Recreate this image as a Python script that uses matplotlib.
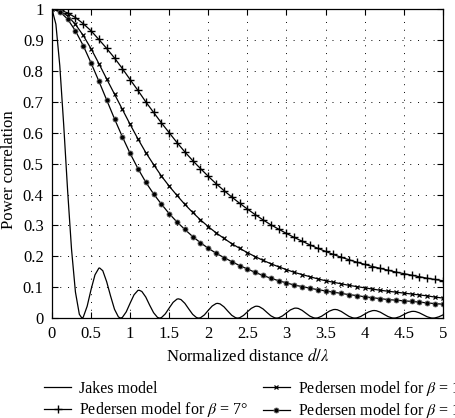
import numpy as np
import matplotlib
matplotlib.use("Agg")
import matplotlib.pyplot as plt
from matplotlib.ticker import FuncFormatter

plt.rcParams['font.family'] = ['Liberation Serif', 'DejaVu Serif']
plt.rcParams['mathtext.fontset'] = 'stix'
plt.rcParams['font.size'] = 11.5

# Jakes model, read at 0.05 steps plus the zeros and the lobe tops
jakes_d = [0.00, 0.05, 0.10, 0.15, 0.20, 0.25, 0.30, 0.35, 0.40, 0.45,
           0.50, 0.55, 0.60, 0.65, 0.70, 0.75, 0.80, 0.85, 0.90, 0.95,
           1.00, 1.05, 1.10, 1.15, 1.20, 1.25, 1.30, 1.35, 1.40, 1.45,
           1.50, 1.55, 1.60, 1.65, 1.70, 1.75, 1.80, 1.85, 1.90, 1.95,
           2.00, 2.05, 2.10, 2.15, 2.20, 2.25, 2.30, 2.35, 2.40, 2.45,
           2.50, 2.55, 2.60, 2.65, 2.70, 2.75, 2.80, 2.85, 2.90, 2.95,
           3.00, 3.05, 3.10, 3.15, 3.20, 3.25, 3.30, 3.35, 3.40, 3.45,
           3.50, 3.55, 3.60, 3.65, 3.70, 3.75, 3.80, 3.85, 3.90, 3.95,
           4.00, 4.05, 4.10, 4.15, 4.20, 4.25, 4.30, 4.35, 4.40, 4.45,
           4.50, 4.55, 4.60, 4.65, 4.70, 4.75, 4.80, 4.85, 4.90, 4.95, 5.00]
jakes_p = [1.0, 0.9516, 0.8167, 0.6250, 0.4128, 0.2228, 0.0844, 0.0123, 0.0030, 0.0384,
           0.0925, 0.1400, 0.1618, 0.1534, 0.1174, 0.0712, 0.0285, 0.0037, 0.0021, 0.0202,
           0.0485, 0.0755, 0.0898, 0.0861, 0.0681, 0.0417, 0.0175, 0.0022, 0.0015, 0.0137,
           0.0328, 0.0511, 0.0616, 0.0600, 0.0478, 0.0296, 0.0121, 0.0015, 0.0011, 0.0103,
           0.0253, 0.0392, 0.0471, 0.0460, 0.0366, 0.0225, 0.0091, 0.0011, 0.0010, 0.0085,
           0.0203, 0.0315, 0.0380, 0.0373, 0.0298, 0.0184, 0.0075, 0.0009, 0.0009, 0.0071,
           0.0169, 0.0264, 0.0319, 0.0314, 0.0251, 0.0156, 0.0063, 0.0007, 0.0007, 0.0061,
           0.0145, 0.0227, 0.0275, 0.0271, 0.0217, 0.0135, 0.0055, 0.0006, 0.0006, 0.0053,
           0.0127, 0.0199, 0.0241, 0.0238, 0.0192, 0.0119, 0.0049, 0.0006, 0.0006, 0.0047,
           0.0113, 0.0177, 0.0215, 0.0213, 0.0171, 0.0107, 0.0043, 0.0005, 0.0005, 0.0042, 0.0101]
jakes_zero_d = [0.3827, 0.8785, 1.3773, 1.8767, 2.3763, 2.8761, 3.3759, 3.8758, 4.3757, 4.8756]
jakes_peak_d = [0.6098, 1.1166, 1.6192, 2.1205, 2.6214, 3.1219, 3.6224, 4.1227, 4.6230]
jakes_peak_p = [0.1622, 0.0901, 0.0623, 0.0477, 0.0386, 0.0324, 0.0280, 0.0246, 0.0219]

# Pedersen model, read every 0.1
ped_d = [round(0.1 * i, 1) for i in range(51)]
ped_7 = [1.0, 0.998, 0.988, 0.973, 0.953, 0.930, 0.902, 0.873, 0.842, 0.808,
         0.772, 0.737, 0.700, 0.666, 0.632, 0.600, 0.568, 0.538, 0.510, 0.484,
         0.459, 0.435, 0.413, 0.392, 0.372, 0.353, 0.335, 0.318, 0.302, 0.288,
         0.274, 0.261, 0.249, 0.237, 0.226, 0.216, 0.206, 0.197, 0.189, 0.181,
         0.174, 0.167, 0.161, 0.155, 0.149, 0.144, 0.139, 0.134, 0.129, 0.125, 0.121]
ped_10 = [1.0, 0.995, 0.978, 0.951, 0.915, 0.872, 0.824, 0.774, 0.725, 0.676,
          0.627, 0.580, 0.536, 0.497, 0.460, 0.427, 0.397, 0.368, 0.342, 0.318,
          0.296, 0.276, 0.258, 0.241, 0.226, 0.212, 0.199, 0.187, 0.176, 0.166,
          0.157, 0.148, 0.141, 0.134, 0.127, 0.121, 0.116, 0.111, 0.106, 0.102,
          0.098, 0.094, 0.090, 0.087, 0.084, 0.081, 0.078, 0.075, 0.072, 0.068, 0.065]
ped_15 = [1.0, 0.992, 0.968, 0.930, 0.882, 0.826, 0.767, 0.706, 0.645, 0.587,
          0.533, 0.484, 0.440, 0.402, 0.369, 0.338, 0.311, 0.287, 0.264, 0.244,
          0.226, 0.210, 0.196, 0.183, 0.170, 0.159, 0.148, 0.138, 0.129, 0.121,
          0.114, 0.107, 0.102, 0.097, 0.092, 0.088, 0.084, 0.080, 0.076, 0.073,
          0.069, 0.066, 0.063, 0.060, 0.058, 0.056, 0.054, 0.052, 0.049, 0.047, 0.045]

labels = ['Jakes model',
          r'Pedersen model for $\beta$ = 7°',
          r'Pedersen model for $\beta$ = 10°',
          r'Pedersen model for $\beta$ = 15°']

# merge the Jakes samples
jd = np.array(jakes_d + jakes_zero_d + jakes_peak_d)
jp = np.array(jakes_p + [0.0] * len(jakes_zero_d) + jakes_peak_p)
order = np.argsort(jd)
jd, jp = jd[order], jp[order]

fig = plt.figure(figsize=(4.56, 4.18), dpi=100)
ax = fig.add_axes([0.114, 0.239, 0.857, 0.739])
lw = 0.9

l1, = ax.plot(jd, jp, color='k', lw=lw)
l2, = ax.plot(ped_d, ped_7, color='k', lw=lw, marker='+', ms=6, mew=1.0)
l3, = ax.plot(ped_d, ped_10, color='k', lw=lw, marker='x', ms=3.5, mew=0.9)
l4, = ax.plot(ped_d, ped_15, color='k', lw=lw, marker='o', ms=3.6,
              mfc='k', mec='#666666', mew=0.6)

ax.set_xlim(0, 5)
ax.set_ylim(0, 1)
ax.set_xticks(np.arange(0, 5.01, 0.5))
ax.set_yticks(np.arange(0, 1.01, 0.1))
fmt = FuncFormatter(lambda v, p: '%g' % round(v, 2))
ax.xaxis.set_major_formatter(fmt)
ax.yaxis.set_major_formatter(fmt)
ax.tick_params(direction='in', top=True, right=True, length=4, width=0.8,
               labelsize=12, pad=6)
ax.grid(True, color='k', lw=0.7, linestyle=(0, (1, 7)))
for s in ax.spines.values():
    s.set_linewidth(0.9)

ax.set_xlabel(r'Normalized distance $d/\lambda$', fontsize=12, labelpad=4)
ax.set_ylabel('Power correlation', fontsize=12)
ax.yaxis.set_label_coords(-0.09, 0.482)

fig.legend([l1, l2, l3, l4], labels, loc='upper left',
           bbox_to_anchor=(44 / 456, 1 - 379 / 418), ncol=2, frameon=False,
           numpoints=1, fontsize=11.5, borderpad=0, borderaxespad=0,
           handlelength=1.7, handletextpad=0.5, columnspacing=0.9,
           labelspacing=0.2)

fig.savefig('out.png', dpi=100)
